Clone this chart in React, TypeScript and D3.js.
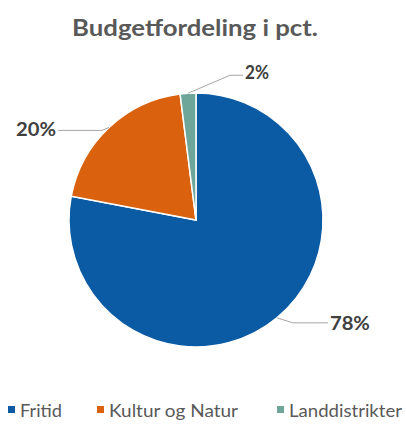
import React from "react";
import * as d3 from "d3";

const categories = ["Fritid", "Kultur og Natur", "Landdistrikter"];
const values = [78, 20, 2];
const labels = ["78%", "20%", "2%"];
const colors = ["#0a5aa4", "#da620f", "#6ea69a"];

const W = 406;
const H = 425;
const cx = 196;
const cy = 220;
const R = 127;

// label layout (leader elbow/end offsets, text anchors and widths), per slice
const labelLayout = [
  { elbow: [16, 5], end: [51, 5], text: [53, 12], anchor: "start", len: 40 },
  { elbow: [-7, 3], end: [-51, 3], text: [-53, 9], anchor: "end", len: 40 },
  { elbow: [42, -18], end: [55, -18], text: [57, -14], anchor: "start", len: 24 },
];
const legendX = [8, 97, 277];
const legendLen = [42, 129, 113];

const font = "Lato, 'Open Sans', sans-serif";

export default function App() {
  const pie = d3
    .pie<number>()
    .sort(null)
    .value((d) => d)
    .startAngle(0)
    .endAngle(2 * Math.PI);
  const arcs = pie(values);
  const arc = d3.arc<d3.PieArcDatum<number>>().innerRadius(0).outerRadius(R);

  return (
    <svg width={W} height={H} style={{ position: "absolute", left: 0, top: 0, background: "#fff" }}>
      <text
        x={72}
        y={36}
        fontFamily={font}
        fontWeight="bold"
        fontSize={23}
        fill="#595959"
        textLength={246}
        lengthAdjust="spacingAndGlyphs"
      >
        Budgetfordeling i pct.
      </text>
      <g transform={`translate(${cx},${cy})`}>
        {arcs.map((a, i) => (
          <path key={i} d={arc(a) || ""} fill={colors[i]} stroke="#fff" strokeWidth={1.5} />
        ))}
        {arcs.map((a, i) => {
          const mid = (a.startAngle + a.endAngle) / 2;
          const sx = R * Math.sin(mid);
          const sy = -R * Math.cos(mid);
          const L = labelLayout[i];
          const ex = sx + L.elbow[0];
          const ey = sy + L.elbow[1];
          const fx = sx + L.end[0];
          const fy = sy + L.end[1];
          const tx = L.anchor === "end" ? sx + L.text[0] - L.len : sx + L.text[0];
          return (
            <g key={"l" + i}>
              <polyline
                points={`${sx},${sy} ${ex},${ey} ${fx},${fy}`}
                fill="none"
                stroke="#a6a6a6"
                strokeWidth={1}
              />
              <text
                x={tx}
                y={sy + L.text[1]}
                fontFamily={font}
                fontWeight="bold"
                fontSize={18}
                fill="#404040"
                textLength={L.len}
                lengthAdjust="spacingAndGlyphs"
              >
                {labels[i]}
              </text>
            </g>
          );
        })}
      </g>
      {categories.map((c, i) => (
        <g key={"lg" + i}>
          <rect x={legendX[i]} y={406} width={7} height={7} fill={colors[i]} />
          <text
            x={legendX[i] + 12}
            y={417}
            fontFamily={font}
            fontSize={18}
            fill="#595959"
            textLength={legendLen[i]}
            lengthAdjust="spacingAndGlyphs"
          >
            {c}
          </text>
        </g>
      ))}
    </svg>
  );
}
